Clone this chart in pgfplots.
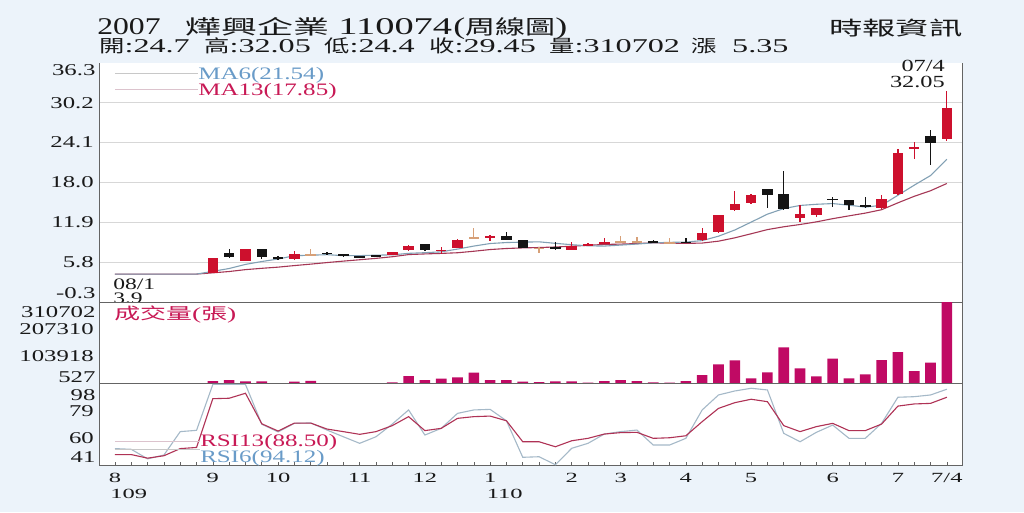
\documentclass[border=0pt]{standalone}
\usepackage{fontspec}
\setmainfont{Liberation Serif}
\newfontfamily\cjk{Noto Sans CJK TC}
\usepackage{graphicx}
\usepackage{pgfplots}
\usepackage{pgfplotstable}
\pgfplotsset{compat=1.18}

\definecolor{bg}{RGB}{236,243,250}
\definecolor{upred}{RGB}{205,16,45}
\definecolor{downblk}{RGB}{20,20,20}
\definecolor{dojitan}{RGB}{215,160,120}
\definecolor{ma6c}{RGB}{130,160,180}
\definecolor{ma13c}{RGB}{165,55,85}
\definecolor{ma6t}{RGB}{105,155,200}
\definecolor{ma13t}{RGB}{200,25,85}
\definecolor{volc}{RGB}{192,10,100}
\definecolor{rsi6c}{RGB}{165,185,200}
\definecolor{rsi13c}{RGB}{175,50,85}
\definecolor{axisc}{RGB}{100,100,100}
\definecolor{gridc}{RGB}{215,215,215}
\definecolor{legline}{RGB}{200,200,200}
\definecolor{legline2}{RGB}{220,195,205}
\definecolor{txt}{RGB}{25,25,25}

\newcommand\fs[1]{\fontsize{#1}{#1}\selectfont}
\newcommand\hdc[1]{\scalebox{1.45}[1]{\cjk\fs{17.5}#1}}
\newcommand\hdl[1]{\scalebox{1.65}[1]{\fs{19.5}#1}}

% weekly data: index, open, high, low, close, volume, RSI6, RSI13, MA6, MA13, type (1 up, -1 down, 0 doji, 9 none)
\pgfplotstableread{
i o h l c v r6 r13 m6 m13 t
0 4.0 4.0 3.9 4.0 0 52.5 48.3 4.00 4.00 9
1 4.0 4.0 4.0 4.0 0 52.0 48.3 4.00 4.00 9
2 4.0 4.0 4.0 4.0 0 45.3 45.8 4.00 4.00 9
3 4.0 4.0 4.0 4.0 0 48.0 47.5 4.00 4.00 9
4 4.0 4.0 4.0 4.0 0 64.4 52.5 4.00 4.00 9
5 4.0 4.0 4.0 4.0 0 65.3 53.3 4.00 4.00 9
6 4.1 6.5 4.1 6.5 10800 97.5 87.5 4.42 4.19 1
7 7.25 7.9 6.5 6.6 14600 97.5 87.8 4.85 4.39 -1
8 6.0 7.9 6.0 7.8 9700 97.5 91.3 5.48 4.68 1
9 7.8 7.9 6.3 6.6 9700 69.6 69.9 5.92 4.88 -1
10 6.55 6.7 6.2 6.3 1500 64.2 64.8 6.30 5.06 -1
11 6.3 7.55 6.2 7.05 8000 70.2 70.4 6.81 5.30 1
12 6.9 7.8 6.85 6.95 11000 70.5 70.4 6.88 5.52 0
13 7.2 7.45 6.95 7.1 3000 65.5 66.2 6.97 5.76 -1
14 6.9 7.1 6.65 6.85 3000 60.8 64.4 6.81 5.98 -1
15 6.7 6.8 6.55 6.65 1000 56.2 62.5 6.82 6.19 -1
16 6.75 6.85 6.7 6.75 1000 60.8 64.4 6.89 6.40 -1
17 6.95 7.45 6.9 7.35 6000 69.7 68.6 6.94 6.65 1
18 7.65 8.4 7.6 8.3 29800 79.6 74.9 7.17 6.98 1
19 8.55 8.6 7.6 7.7 14600 62.0 65.1 7.27 7.08 -1
20 7.6 8.2 7.05 7.65 19600 66.7 66.7 7.40 7.16 1
21 8.0 9.3 7.95 9.15 24900 77.2 73.7 7.82 7.26 1
22 9.55 11.1 9.3 9.55 42400 79.6 74.9 8.28 7.49 0
23 9.6 10.05 9.05 9.65 14600 80.0 75.3 8.67 7.75 1
24 9.85 10.4 9.15 9.2 14600 72.0 72.0 8.82 7.91 -1
25 9.2 9.25 8.0 8.05 8000 46.4 57.3 8.88 8.00 -1
26 7.9 8.2 7.15 7.95 7000 46.8 57.3 8.93 8.06 0
27 8.15 8.85 7.75 7.8 9700 41.2 53.8 8.70 8.14 -1
28 7.7 8.85 7.65 8.3 9700 52.7 58.0 8.49 8.26 1
29 8.35 8.7 8.3 8.6 4300 56.2 59.7 8.32 8.40 1
30 8.6 9.45 8.55 8.95 10800 62.7 62.7 8.28 8.53 1
31 8.95 9.8 8.7 8.95 14600 64.4 63.7 8.43 8.58 0
32 8.95 9.6 8.8 8.95 10800 65.5 63.9 8.59 8.67 0
33 9.1 9.15 8.8 8.85 5800 55.0 59.7 8.77 8.77 -1
34 8.8 9.5 8.7 8.8 4300 55.0 60.1 8.85 8.74 0
35 8.85 9.55 8.75 8.85 10800 59.7 61.5 8.89 8.69 -1
36 9.2 11.0 9.1 10.3 33600 79.6 71.4 9.12 8.74 1
37 10.4 13.0 10.3 13.0 74400 90.1 80.7 9.79 9.03 1
38 13.75 16.7 13.7 14.65 89600 92.9 84.7 10.74 9.54 1
39 14.8 16.3 14.75 16.05 21000 94.8 87.1 11.94 10.16 1
40 16.95 17.0 14.05 16.1 44000 93.6 85.4 13.16 10.80 -1
41 16.2 19.75 13.8 13.95 139000 63.2 68.6 14.01 11.23 -1
42 12.55 14.5 12.0 13.2 59200 57.3 64.4 14.49 11.58 1
43 13.0 14.1 12.7 14.05 28700 63.9 67.9 14.67 11.98 1
44 15.55 15.8 14.2 15.3 95700 69.0 70.2 14.78 12.47 -1
45 15.3 15.4 13.8 14.55 21000 59.7 65.1 14.53 12.90 -1
46 14.45 15.75 14.15 14.4 36300 59.7 65.1 14.24 13.32 -1
47 14.15 16.1 14.0 15.55 90700 70.2 69.7 14.51 13.84 1
48 16.2 23.05 16.1 22.45 121000 88.5 82.3 16.05 14.89 1
49 23.2 24.2 21.55 23.3 48800 88.9 83.8 17.59 15.89 1
50 25.1 26.0 20.75 24.1 80500 90.1 84.2 19.06 16.74 -1
51 24.7 32.05 24.4 29.45 310702 94.12 88.50 21.54 17.85 1
}\wk

\pgfplotsset{
  pane/.style={scale only axis, width=863pt, anchor=south west,
    xmin=-0.98, xmax=51.93,
    axis background/.style={fill=white},
    axis line style={draw=axisc, line width=0.9pt},
    ytick style={draw=none},
    scaled y ticks=false,
    yticklabel style={font=\fs{16.5}, text=txt, xscale=1.5, anchor=east, inner sep=0pt, xshift=-3.3pt}},
  wick/.style 2 args={draw=none, no markers, forget plot,
    restrict expr to domain={\thisrow{t}}{#1:#1},
    error bars/.cd, y dir=both, y explicit, error mark=none,
    error bar style={draw=#2, line width=1.3pt}},
  body/.style 2 args={draw=none, no markers, forget plot,
    restrict expr to domain={\thisrow{t}}{#1:#1},
    error bars/.cd, y dir=both, y explicit, error mark=none,
    error bar style={draw=#2, line width=10.5pt}},
}

\begin{document}
\begin{tikzpicture}[x=1pt,y=1pt]
\fill[bg] (0,0) rectangle (1024,512);

% ---------- header ----------
\begin{scope}[every node/.style={anchor=base west, inner sep=0pt, text=txt}]
\node[xscale=1.32] at (97,477.5) {\fs{24}2007};
\node[xscale=1.8] at (185,477.5) {\cjk\fs{20}燁興企業};
\node[xscale=1.6] at (338,477.5) {\fs{24}110074};
\node[xscale=1.5] at (453,477.5) {\fs{24}({\cjk\fs{20}周線圖})};
\node at (99,459) {\hdc{開}\hdl{:24.7}};
\node at (204,459) {\hdc{高}\hdl{:32.05}};
\node at (324,459) {\hdc{低}\hdl{:24.4}};
\node at (429,459) {\hdc{收}\hdl{:29.45}};
\node at (549,459) {\hdc{量}\hdl{:310702}};
\node at (691,459) {\hdc{漲}};
\node at (732,459) {\hdl{5.35}};
\end{scope}
\node[anchor=east, inner sep=0pt, xscale=1.71, text=txt] at (963,483.5) {\cjk\fs{19.5}時報資訊};

% ---------- price pane ----------
\begin{axis}[pane, at={(99pt,209.8pt)}, height=239.4pt,
  ymin=-0.3, ymax=36.3,
  ytick={5.8,11.9,18.0,24.1,30.2}, yticklabels={5.8,11.9,18.0,24.1,30.2},
  ymajorgrids, grid style={draw=gridc, line width=0.7pt},
  axis line style={draw=none}, xtick=\empty]
\addplot[ma13c, line width=1.1pt] table[x=i, y=m13] {\wk};
\addplot[ma6c, line width=1.1pt] table[x=i, y=m6] {\wk};
\addplot[wick={1}{upred}] table[x=i, y expr={(\thisrow{h}+\thisrow{l})/2}, y error expr={(\thisrow{h}-\thisrow{l})/2}] {\wk};
\addplot[wick={-1}{downblk}] table[x=i, y expr={(\thisrow{h}+\thisrow{l})/2}, y error expr={(\thisrow{h}-\thisrow{l})/2}] {\wk};
\addplot[wick={0}{dojitan}] table[x=i, y expr={(\thisrow{h}+\thisrow{l})/2}, y error expr={(\thisrow{h}-\thisrow{l})/2}] {\wk};
\addplot[body={1}{upred}] table[x=i, y expr={(\thisrow{o}+\thisrow{c})/2}, y error expr={max(abs(\thisrow{c}-\thisrow{o})/2,0.12)}] {\wk};
\addplot[body={-1}{downblk}] table[x=i, y expr={(\thisrow{o}+\thisrow{c})/2}, y error expr={max(abs(\thisrow{c}-\thisrow{o})/2,0.12)}] {\wk};
\addplot[body={0}{dojitan}] table[x=i, y expr={(\thisrow{o}+\thisrow{c})/2}, y error expr={max(abs(\thisrow{c}-\thisrow{o})/2,0.1)}] {\wk};
\end{axis}
\draw[axisc, line width=0.9pt] (99,209.8) -- (99,449.2);
\draw[axisc, line width=0.9pt] (962,209.8) -- (962,449.2);

% price legend and notes
\draw[legline, line width=0.8pt] (115,439) -- (198,439);
\draw[legline2, line width=0.8pt] (115,423) -- (198,423);
\begin{scope}[every node/.style={inner sep=0pt, xscale=1.43}]
\node[anchor=base west, text=ma6t] at (198,432.5) {\fs{17.5}MA6(21.54)};
\node[anchor=base west, text=ma13t] at (198,416.5) {\fs{17.5}MA13(17.85)};
\node[anchor=base west, text=txt, xscale=1.03] at (113,223) {\fs{16}08/1};
\node[anchor=base west, text=txt, xscale=1.03] at (113,209) {\fs{16}3.9};
\node[anchor=base east, text=txt] at (945,440.5) {\fs{17}07/4};
\node[anchor=base east, text=txt] at (945,424.7) {\fs{17}32.05};
\end{scope}

% ---------- volume pane ----------
\begin{axis}[pane, at={(99pt,128.3pt)}, height=81.5pt,
  ymin=527, ymax=310702,
  ytick={103918,207310}, yticklabels={103918,207310}, xtick=\empty]
\addplot[ybar, bar width=10.6pt, fill=volc, draw=none] table[x=i, y=v] {\wk};
\end{axis}
\node[anchor=west, inner sep=0pt, xscale=1.62, text=ma13t] at (114,197.8) {{\cjk\fs{16}成交量}\fs{17}({\cjk\fs{16}張})};

% ---------- RSI pane ----------
\begin{axis}[pane, at={(99pt,47pt)}, height=81.3pt,
  ymin=41, ymax=98,
  ytick={60,79}, yticklabels={60,79},
  xtick={0,6,10,15,19,23,28,31,35,39,44,48,51},
  xticklabels={8,9,10,11,12,1,2,3,4,5,6,7,7/4},
  minor xtick={0,...,51},
  xtick pos=bottom, tick align=inside,
  xtick style={draw=axisc, line width=0.6pt},
  major tick length=3pt, minor tick length=3pt,
  xticklabel style={font=\fs{14}, text=txt, xscale=1.75, anchor=base, inner sep=0pt, yshift=-17pt}]
\addplot[rsi6c, line width=1.1pt] table[x=i, y=r6] {\wk};
\addplot[rsi13c, line width=1.1pt] table[x=i, y=r13] {\wk};
\end{axis}
\draw[legline2, line width=0.8pt] (115,71) -- (200,71);
\draw[legline, line width=0.8pt] (115,62.7) -- (200,62.7);
\begin{scope}[every node/.style={inner sep=0pt, xscale=1.43}]
\node[anchor=base west, text=ma13t] at (200,66) {\fs{17.5}RSI13(88.50)};
\node[anchor=base west, text=ma6t] at (200,50) {\fs{17.5}RSI6(94.12)};
\end{scope}

% extreme y labels
\begin{scope}[every node/.style={anchor=east, inner sep=0pt, xscale=1.5, text=txt, font=\fs{16.5}}]
\node at (95.7,442) {36.3};
\node at (95.7,219) {-0.3};
\node at (95.7,200.3) {310702};
\node at (95.7,135.3) {527};
\node at (95.7,117) {98};
\node at (95.7,55.3) {41};
\end{scope}
% year under month labels
\begin{scope}[every node/.style={anchor=base west, inner sep=0pt, xscale=1.75, text=txt, font=\fs{14}}]
\node at (110,14) {109};
\node at (486.5,14) {110};
\end{scope}

\pgfresetboundingbox
\useasboundingbox (0,0) rectangle (1024,512);
\end{tikzpicture}
\end{document}
